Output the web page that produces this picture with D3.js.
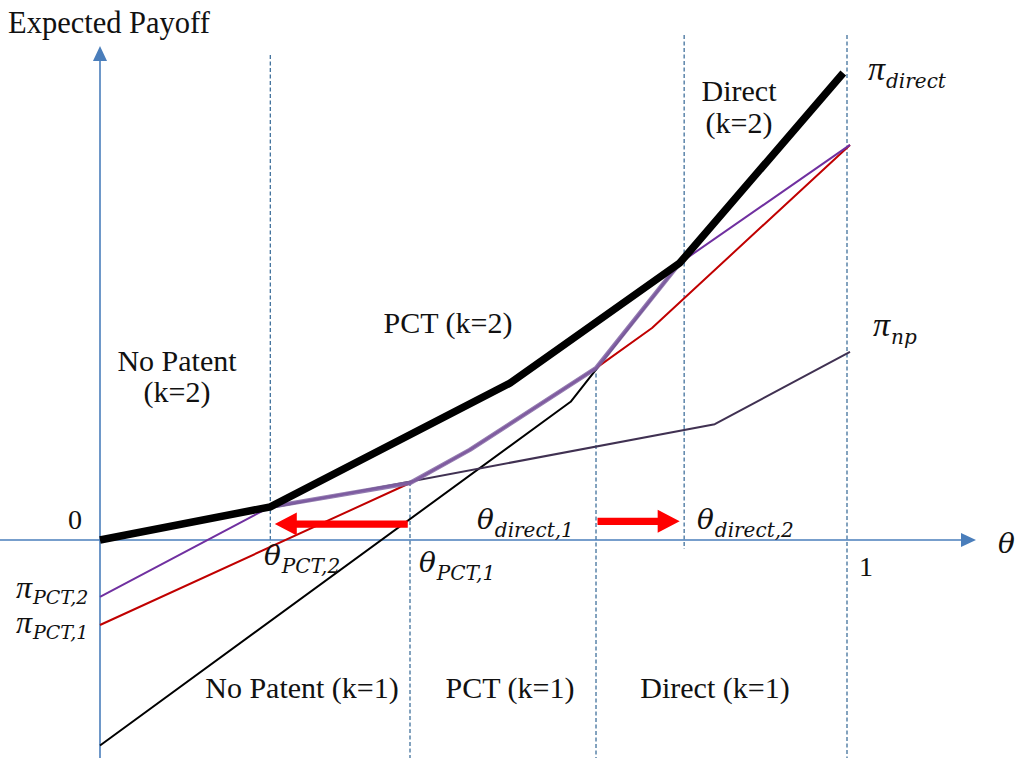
<!DOCTYPE html>
<html>
<head>
<meta charset="utf-8">
<script src="https://cdn.jsdelivr.net/npm/d3@7/dist/d3.min.js"></script>
<style>
  html, body { margin: 0; padding: 0; background: #fff; }
  svg { display: block; }
  .txt { font-family: "Liberation Serif", "Times New Roman", serif; fill: #111; }
  .math { font-family: "DejaVu Serif", serif; font-style: italic; fill: #111; }
  .sym { font-family: "Liberation Serif", serif; font-style: italic; }
</style>
</head>
<body>
<div id="chart"></div>
<script>
// Thresholds on the theta axis
const thresholdNames = ["PCT,2", "PCT,1", "direct,1", "direct,2", "one"];
const thresholdValues = [0.228, 0.415, 0.664, 0.782, 1.0];

// Expected payoff curves (theta, payoff)
const envelopeTheta  = [0, 0.228, 0.549, 0.776, 0.995];
const envelopePayoff = [0, 0.071, 0.336, 0.593, 1.000];

const npTheta  = [0, 0.823, 1.004];
const npPayoff = [0, 0.248, 0.403];

const pct2Theta  = [0, 0.228, 0.415, 0.495, 0.664, 0.776, 1.004];
const pct2Payoff = [-0.122, 0.071, 0.122, 0.193, 0.368, 0.593, 0.846];

const pct1Theta  = [0, 0.415, 0.495, 0.664, 0.739, 1.004];
const pct1Payoff = [-0.182, 0.122, 0.193, 0.368, 0.454, 0.846];

const direct1Theta  = [0, 0.630, 0.776];
const direct1Payoff = [-0.440, 0.296, 0.593];

// Highlighted stretch of the k=2 PCT curve
const pct2HiTheta  = [0.228, 0.415, 0.495, 0.664, 0.776];
const pct2HiPayoff = [0.071, 0.122, 0.193, 0.368, 0.593];

// Region labels
const regionLabels = [
  ["No Patent", "(k=2)"],
  ["PCT (k=2)"],
  ["Direct", "(k=2)"],
  ["No Patent (k=1)"],
  ["PCT (k=1)"],
  ["Direct (k=1)"]
];

const W = 1015, H = 758;
const svg = d3.select("#chart").append("svg").attr("width", W).attr("height", H);

const x = d3.scaleLinear().domain([0, 1]).range([100, 847]);
const y = d3.scaleLinear().domain([0, 1]).range([540, 73]);

const zip = (a, b) => a.map((v, i) => [v, b[i]]);
const line = d3.line().x(d => x(d[0])).y(d => y(d[1]));

const axisColor = "#4a7ebb";
const dashColor = "#41719c";

// Vertical dashed threshold lines
const dashSpec = [
  { t: thresholdValues[0], top: 55, bottom: 543 },
  { t: thresholdValues[1], top: 482, bottom: 758 },
  { t: thresholdValues[2], top: 367, bottom: 758 },
  { t: thresholdValues[3], top: 35, bottom: 549 },
  { t: thresholdValues[4], top: 35, bottom: 758 }
];
svg.append("g").selectAll("line").data(dashSpec).join("line")
  .attr("x1", d => x(d.t)).attr("x2", d => x(d.t))
  .attr("y1", d => d.top).attr("y2", d => d.bottom)
  .attr("stroke", dashColor).attr("stroke-width", 1.3)
  .attr("stroke-dasharray", "4,2.5");

// Axes with arrow heads
const axes = svg.append("g");
axes.append("line").attr("x1", x(0)).attr("x2", x(0)).attr("y1", 758).attr("y2", 60)
  .attr("stroke", axisColor).attr("stroke-width", 1.6);
axes.append("path").attr("d", `M${x(0)},46 L${x(0) - 7},61 L${x(0) + 7},61 Z`).attr("fill", axisColor);
axes.append("line").attr("x1", 0).attr("x2", 962).attr("y1", y(0)).attr("y2", y(0))
  .attr("stroke", axisColor).attr("stroke-width", 1.6);
axes.append("path").attr("d", `M976,${y(0)} L961,${y(0) - 7} L961,${y(0) + 7} Z`).attr("fill", axisColor);

// Curves
const curves = svg.append("g").attr("fill", "none").attr("stroke-linejoin", "round");
curves.append("path").attr("d", line(zip(direct1Theta, direct1Payoff)))
  .attr("stroke", "#000").attr("stroke-width", 2);
curves.append("path").attr("d", line(zip(npTheta, npPayoff)))
  .attr("stroke", "#403152").attr("stroke-width", 2);
curves.append("path").attr("d", line(zip(pct1Theta, pct1Payoff)))
  .attr("stroke", "#c00000").attr("stroke-width", 2);
curves.append("path").attr("d", line(zip(pct2Theta, pct2Payoff)))
  .attr("stroke", "#7030a0").attr("stroke-width", 2);
curves.append("path").attr("d", line(zip(pct2HiTheta, pct2HiPayoff)))
  .attr("stroke", "#8064a2").attr("stroke-opacity", 0.85).attr("stroke-width", 4.5);
curves.append("path").attr("d", line(zip(envelopeTheta, envelopePayoff)))
  .attr("stroke", "#000").attr("stroke-width", 7.5).attr("stroke-linejoin", "miter");

// Red shift arrows
function arrow(fromT, toT, payoff) {
  const x0 = x(fromT), x1 = x(toT), yc = y(payoff);
  const dir = Math.sign(x1 - x0);
  const headLen = 22, headHalf = 11.5, shaftHalf = 3.6;
  const xb = x1 - dir * headLen;
  return `M${x0},${yc - shaftHalf} L${xb},${yc - shaftHalf} L${xb},${yc - headHalf} L${x1},${yc} ` +
         `L${xb},${yc + headHalf} L${xb},${yc + shaftHalf} L${x0},${yc + shaftHalf} Z`;
}
svg.append("path").attr("d", arrow(thresholdValues[1] - 0.003, thresholdValues[0] + 0.006, 0.034)).attr("fill", "#ff0000");
svg.append("path").attr("d", arrow(thresholdValues[2] + 0.002, thresholdValues[3] - 0.006, 0.040)).attr("fill", "#ff0000");

// Plain text labels
const T = svg.append("g");
function txt(str, px, py, size, anchor) {
  T.append("text").attr("class", "txt").attr("x", px).attr("y", py)
    .attr("font-size", size).attr("text-anchor", anchor || "start").text(str);
}
txt("Expected Payoff", 8, 33, 30.5);
txt("0", 68, 529, 28);
txt("1", 859, 576, 28);

const regionPos = [
  [177, 371, 31], [448, 333, 31], [739, 101, 32],
  [302, 698, 31], [510, 698, 31], [715, 698, 31]
];
regionLabels.forEach((lines, i) => {
  const [cx, cy, lh] = regionPos[i];
  lines.forEach((s, j) => txt(s, cx, cy + j * lh, 30, "middle"));
});

// Math labels: base symbol with italic subscript
function mathLabel(base, sub, px, py, size, subSize, baseClass, subDy) {
  const t = T.append("text").attr("class", "math").attr("x", px).attr("y", py);
  const b = t.append("tspan").attr("font-size", size).text(base);
  if (baseClass) b.attr("class", baseClass);
  if (sub) t.append("tspan").attr("font-size", subSize).attr("dy", subDy || 8).attr("dx", 1).text(sub);
}
mathLabel("θ", "PCT,2", 264, 565, 28, 20);
mathLabel("θ", "PCT,1", 419, 572, 28, 20);
mathLabel("θ", "direct,1", 477, 529, 28, 20);
mathLabel("θ", "direct,2", 697, 529, 28, 20);
mathLabel("θ", null, 998, 553, 28, 20);
mathLabel("π", "direct", 868, 80, 34, 20, "sym");
mathLabel("π", "np", 873, 336, 34, 20, "sym");
mathLabel("π", "PCT,2", 16, 598, 32, 19, "sym", 6);
mathLabel("π", "PCT,1", 16, 633, 32, 19, "sym", 6);
</script>
</body>
</html>
